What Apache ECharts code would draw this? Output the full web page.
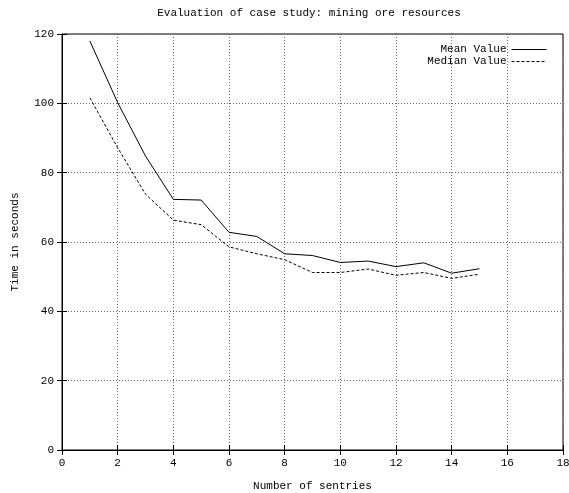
<!DOCTYPE html>
<html><head><meta charset="utf-8">
<script src="https://cdn.jsdelivr.net/npm/echarts@6/dist/echarts.min.js"></script>
<style>html,body{margin:0;padding:0;background:#fff}#c{width:569px;height:493px}</style>
</head><body><div id="c"></div>
<script>
const sentries = [1,2,3,4,5,6,7,8,9,10,11,12,13,14,15];
const meanValues = [118.0,100.2,84.8,72.3,72.1,62.8,61.6,56.6,56.1,54.1,54.5,52.9,54.0,51.0,52.3];
const medianValues = [101.6,87.2,73.8,66.3,65.0,58.6,56.6,54.9,51.2,51.2,52.2,50.4,51.2,49.5,50.7];
const xTicks = [0,2,4,6,8,10,12,14,16,18];
const yTicks = [0,20,40,60,80,100,120];

const font = '"Liberation Mono", "DejaVu Sans Mono", monospace';
const fs = 11;
const gridLine = {show:true, lineStyle:{color:'#666', type:[1,2], width:1}};
const chart = echarts.init(document.getElementById('c'), null, {renderer:'canvas'});
chart.setOption({
  animation:false,
  backgroundColor:'#fff',
  textStyle:{fontFamily:font, fontSize:fs, color:'#000'},
  title:{text:'Evaluation of case study: mining ore resources', left:304, textAlign:'center', top:3,
    textStyle:{fontFamily:font, fontSize:fs, fontWeight:'normal', color:'#000'}},
  legend:{orient:'vertical', right:17, top:39, align:'right', itemWidth:35, itemHeight:10, itemGap:1,
    itemStyle:{opacity:0},
    lineStyle:{width:1},
    textStyle:{fontFamily:font, fontSize:fs, color:'#000'},
    data:[{name:'Mean Value'},{name:'Median Value'}]},
  grid:{left:62, right:6, top:34, bottom:43, show:true, borderColor:'#000', borderWidth:1, outerBoundsMode:'none', containLabel:false},
  xAxis:[{type:'value', min:xTicks[0], max:xTicks[xTicks.length-1], interval:2,
    name:'Number of sentries', nameLocation:'middle', nameGap:31,
    nameTextStyle:{fontFamily:font, fontSize:fs, color:'#000'},
    axisLine:{show:true, lineStyle:{color:'#000'}},
    axisTick:{show:true, inside:true, length:5, lineStyle:{color:'#000'}},
    axisLabel:{fontFamily:font, fontSize:fs, color:'#000', margin:8},
    splitLine:gridLine},
   {type:'value', position:'top', min:xTicks[0], max:xTicks[xTicks.length-1], interval:2,
    axisLine:{show:false}, axisTick:{show:true, inside:true, length:5, lineStyle:{color:'#000'}},
    axisLabel:{show:false}, splitLine:{show:false}}],
  yAxis:[{type:'value', min:yTicks[0], max:yTicks[yTicks.length-1], interval:20,
    name:'Time in seconds', nameLocation:'middle', nameGap:41,
    nameTextStyle:{fontFamily:font, fontSize:fs, color:'#000'},
    axisLine:{show:true, lineStyle:{color:'#000'}},
    axisTick:{show:true, inside:true, length:5, lineStyle:{color:'#000'}},
    axisLabel:{fontFamily:font, fontSize:fs, color:'#000', margin:8},
    splitLine:gridLine},
   {type:'value', position:'right', min:yTicks[0], max:yTicks[yTicks.length-1], interval:20,
    axisLine:{show:false}, axisTick:{show:true, inside:true, length:5, lineStyle:{color:'#000'}},
    axisLabel:{show:false}, splitLine:{show:false}}],
  series:[
    {name:'Mean Value', type:'line', symbol:'none', data:sentries.map((x,i)=>[x,meanValues[i]]),
     lineStyle:{color:'#000', width:1, type:'solid'}, itemStyle:{color:'#000'}},
    {name:'Median Value', type:'line', symbol:'none', data:sentries.map((x,i)=>[x,medianValues[i]]),
     lineStyle:{color:'#000', width:1, type:[3,2]}, itemStyle:{color:'#000'}}
  ]
});
</script></body></html>
